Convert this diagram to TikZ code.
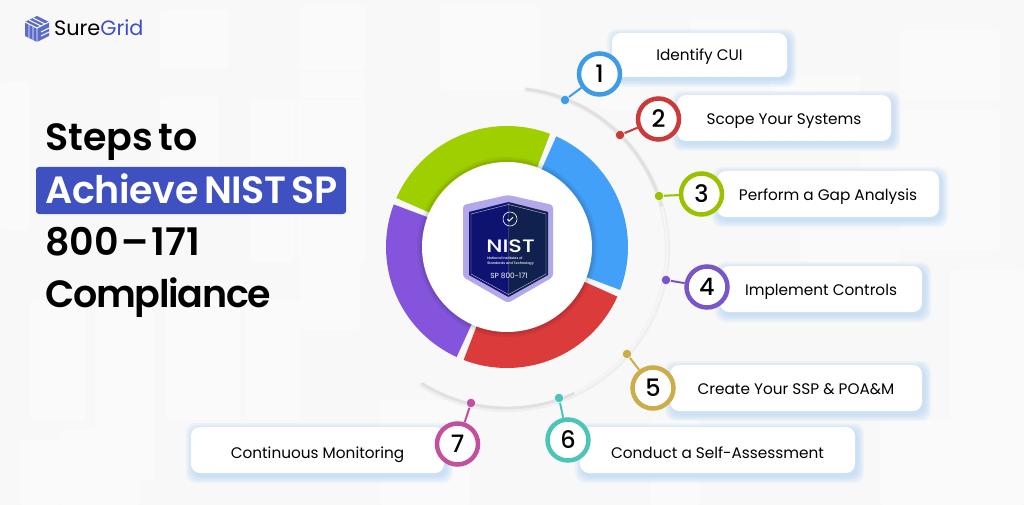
\documentclass[tikz,border=0pt]{standalone}
\usepackage{fontspec}
\usepackage{graphicx}
\setmainfont{Poppins}
\newfontfamily\titlefont{Poppins}[UprightFont=* SemiBold,WordSpace=0.6]
\newfontfamily\monofontx{Poppins}[UprightFont=* Medium]
\usetikzlibrary{calc}
\definecolor{bgc}{HTML}{F8F8F8}
\definecolor{bgl}{HTML}{FAFAFA}
\definecolor{cblue}{HTML}{42A0F8}
\definecolor{cred}{HTML}{DB3B3B}
\definecolor{cgreen}{HTML}{A0CF00}
\definecolor{cpurp}{HTML}{8455DC}
\definecolor{rblue}{HTML}{3F9BE6}
\definecolor{rred}{HTML}{C93A3A}
\definecolor{rgreen}{HTML}{9AC000}
\definecolor{rpurp}{HTML}{7A55C8}
\definecolor{rgold}{HTML}{CBAE4A}
\definecolor{rteal}{HTML}{4CC4B8}
\definecolor{rmag}{HTML}{C2509F}
\definecolor{brand}{HTML}{3F51C0}
\definecolor{navyl}{HTML}{0E1270}
\definecolor{navyr}{HTML}{10204F}
\definecolor{shieldc}{HTML}{B3A8EA}
\definecolor{shadowb}{HTML}{8FC0F5}
\tikzset{
  cardbox/.style={fill=white,rounded corners=9pt,minimum height=46pt,inner sep=0pt,font=\fontsize{15.3}{17}\selectfont,text=black},
  baseoff/.style={text height=#1*2pt,text depth=0pt},
  badge/.style={circle,fill=white,draw=#1,line width=4.5pt,minimum size=41pt,inner sep=0pt,font=\monofontx\fontsize{24}{26}\selectfont,text=black},
  dotn/.style={circle,fill=#1,minimum size=9.5pt,inner sep=0pt,draw=white,line width=.5pt},
  conn/.style={draw=#1,line width=2pt},
  titletext/.style={anchor=base west,inner sep=0pt,font=\titlefont\fontsize{38}{41}\selectfont},
  brick/.style={fill=bgl,rounded corners=3pt,draw=none}
}
\newcommand{\ringseg}[3]{%
  \fill[#3] plot[domain=#1:#2,samples=50] ({507+121*cos(\x)},{247+121*sin(\x)})
    -- plot[domain=#2:#1,samples=50] ({507+80*cos(\x)},{247+80*sin(\x)}) -- cycle;}
\newcommand{\cardshadow}[4]{%
  \foreach \g in {7,5.5,4,2.5,1}{
    \fill[shadowb,opacity=.10,rounded corners=10pt] (#1+2-\g,#2+3-\g) rectangle (#3+2+\g,#4+3+\g);}}
\begin{document}
\begin{tikzpicture}[x=1pt,y=-1pt]
\useasboundingbox (0,0) rectangle (1024,505);
\fill[bgc] (0,0) rectangle (1024,505);
% faint brick texture
\foreach \a/\b/\c/\d in {0/82/30/230,160/10/228/68,160/97/218/178,250/100/295/262,297/100/365/262,300/5/365/70,300/72/365/98,30/300/85/420,95/300/155/480,165/300/240/420,245/300/300/420,300/210/360/330,690/40/760/20,770/75/860/92,900/30/1000/100,900/110/1000/250,800/230/900/262,950/270/1024/420,880/420/1024/505,60/430/140/505,650/420/700/505,380/400/470/505,600/110/640/60,440/5/540/90,20/440/60/505,860/150/900/170}{
  \fill[brick] (\a,\b) rectangle (\c,\d);}
% logo
\node[inner sep=0pt] (logomark) at (37,29) {};
\fill[brand!85] (37,16) -- (49,22) -- (49,36) -- (37,42) -- (25,36) -- (25,22) -- cycle;
\draw[white,line width=.9pt] (25,22) -- (37,28) -- (49,22) (37,28) -- (37,42)
  (29,20) -- (41,26) (33,18) -- (45,24) (29,25) -- (29,38) (33,27) -- (33,40) (41,32) -- (49,28) (41,36) -- (49,32);
\node[anchor=base west,inner sep=0pt,font=\fontsize{20.8}{22}\selectfont] (logotext) at (54,36) {Sure\textcolor{brand}{Grid}};
% title
\node[fill=brand,rounded corners=3pt,minimum width=310pt,minimum height=47pt,inner sep=0pt] (titlebar) at (191,190.5) {};
\node[titletext] (t1) at (45,150) {\addfontfeature{LetterSpace=0}Steps to};
\node[titletext,text=white] (t2) at (45,203.5) {\addfontfeature{LetterSpace=-0.8}Achieve NIST SP};
\node[titletext] (t3) at (45,255) {800\kern1.5pt\scalebox{1.35}[1]{-}\kern1.5pt171};
\node[titletext] (t4) at (45,307) {\addfontfeature{LetterSpace=-3.3}Compliance};
% outer arc
\draw[black!14,line width=5pt,opacity=.3,line cap=round] plot[domain=-83:122,samples=120] ({507+160.5*cos(\x)},{249+160.5*sin(\x)});
\draw[black!12,line width=2.8pt,line cap=round] plot[domain=-83:122,samples=120] ({507+160*cos(\x)},{248+160*sin(\x)});
\draw[white,opacity=.7,line width=2.8pt] plot[domain=-15:65,samples=60] ({507+160*cos(\x)},{248+160*sin(\x)});
% ring
\ringseg{-66}{20.8}{cblue}
\ringseg{24.2}{111}{cred}
\ringseg{114.6}{200.6}{cpurp}
\ringseg{203.9}{290.8}{cgreen}
\fill[black,opacity=.06] (507,247) circle[radius=90pt];
\fill[black,opacity=.08] (507,247) circle[radius=87.5pt];
\node[circle,fill=white,minimum size=170pt,inner sep=0pt] (disc) at (507,247) {};
% shield
\fill[shieldc,rounded corners=3pt] (508,195) -- (553,205) -- (553,277) -- (508,303) -- (463,277) -- (463,205) -- cycle;
\fill[navyl] (508.5,202) -- (469,212) -- (469,275) -- (508.5,297) -- cycle;
\fill[navyr] (508.5,202) -- (548,212) -- (548,275) -- (508.5,297) -- cycle;
\draw[white,opacity=.75,line width=.4pt] (508.5,204.5) -- (546,214) -- (546,274) -- (508.5,294.5) -- (471,274) -- (471,214) -- cycle;
\node[circle,draw=white,line width=.6pt,minimum size=14pt,inner sep=0pt] (chk) at (510,219) {};
\draw[white,line width=1pt] (507.3,219.2) -- (509.2,221) -- (513,217.3);
\node[text=white,inner sep=0pt,font=\monofontx\fontsize{18}{20}\selectfont] (nist) at (510.5,246.5) {\scalebox{1.25}[1]{NIST}};
\node[text=white,inner sep=0pt,align=left,font=\monofontx\fontsize{3.4}{4.8}\selectfont] (nistsub) at (510.5,261.5) {National Institutes of\\Standards and Technology};
\node[text=white,inner sep=0pt,font=\fontsize{7.4}{8}\selectfont] (nistsp) at (509,276) {SP 800-171};
% cards
\cardshadow{612}{33}{787}{77}
\cardshadow{677}{95}{891}{141}
\cardshadow{717}{171}{939}{217}
\cardshadow{720}{266}{922}{312}
\cardshadow{670}{365}{922}{411}
\cardshadow{580}{427}{855}{473}
\cardshadow{191}{427}{444}{473}
\node[cardbox,baseoff=5.5,minimum width=175pt,minimum height=44pt] (c1) at (699.5,55) {Identify CUI};
\node[cardbox,baseoff=6.5,minimum width=214pt] (c2) at (784,118) {Scope Your Systems};
\node[cardbox,baseoff=6,minimum width=222pt] (c3) at (828,194) {Perform a Gap Analysis};
\node[cardbox,baseoff=6,minimum width=202pt] (c4) at (821,289) {Implement Controls};
\node[cardbox,baseoff=6,minimum width=252pt] (c5) at (796,388) {Create Your SSP \& POA\&M};
\node[cardbox,baseoff=8,minimum width=275pt] (c6) at (717.5,450) {Conduct a Self-Assessment};
\node[cardbox,baseoff=8,minimum width=253pt] (c7) at (317.5,450) {Continuous Monitoring};
% dots
\node[dotn=rblue] (d1) at (565,100) {};
\node[dotn=rred] (d2) at (620,135) {};
\node[dotn=rgreen] (d3) at (659,196) {};
\node[dotn=rpurp] (d4) at (666,280) {};
\node[dotn=rgold] (d5) at (627,354) {};
\node[dotn=rteal] (d6) at (559,398) {};
\node[dotn=rmag] (d7) at (471,403) {};
% badges
\node[badge=rblue] (b1) at (599.5,74) {1};
\node[badge=rred] (b2) at (658.5,119) {2};
\node[badge=rgreen] (b3) at (701.5,194) {3};
\node[badge=rpurp] (b4) at (707,287) {4};
\node[badge=rgold] (b5) at (653,388) {5};
\node[badge=rteal] (b6) at (568,440) {6};
\node[badge=rmag] (b7) at (457.5,444) {7};
% connectors
\draw[conn=rblue] (d1) -- (b1);
\draw[conn=rred] (d2) -- (b2);
\draw[conn=rgreen] (d3) -- (b3);
\draw[conn=rpurp] (d4) -- (b4);
\draw[conn=rgold] (d5) -- (b5);
\draw[conn=rteal] (d6) -- (b6);
\draw[conn=rmag] (d7) -- (b7);
\end{tikzpicture}
\end{document}
